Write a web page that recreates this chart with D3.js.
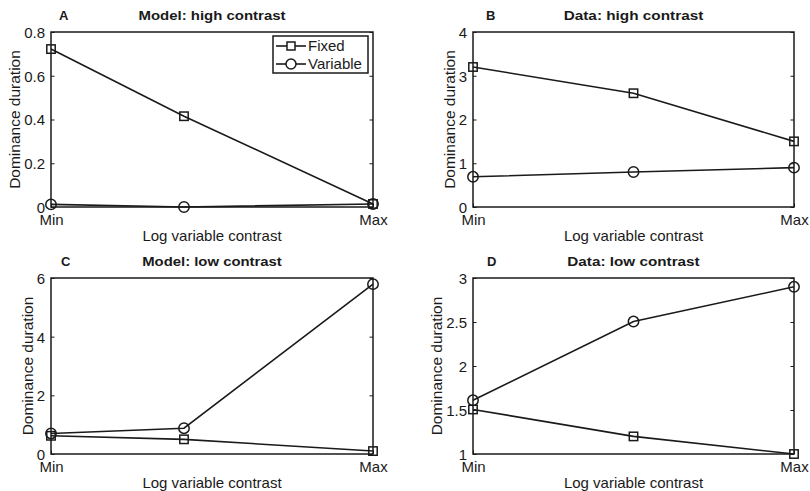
<!DOCTYPE html>
<html>
<head>
<meta charset="utf-8">
<script src="https://cdn.jsdelivr.net/npm/d3@7/dist/d3.min.js"></script>
<style>
  html, body { margin: 0; padding: 0; background: #fff; }
  svg { display: block; }
  text { font-family: "Liberation Sans", Arial, Helvetica, sans-serif; fill: #1a1a1a; }
</style>
</head>
<body>
<script>
// ---- data ----
const panelLetters = ["A", "B", "C", "D"];
const panelTitles = ["Model: high contrast", "Data: high contrast", "Model: low contrast", "Data: low contrast"];
const seriesNames = ["Fixed", "Variable"];
// normalized log variable contrast for the three conditions (Min, middle, Max)
const contrastA = [0, 0.413, 1];
const contrastB = [0, 0.5, 1];
const contrastC = [0, 0.413, 1];
const contrastD = [0, 0.5, 1];
const fixedA = [0.722, 0.415, 0.014];
const variableA = [0.012, 0.0, 0.014];
const fixedB = [3.2, 2.6, 1.5];
const variableB = [0.69, 0.8, 0.9];
const fixedC = [0.62, 0.5, 0.1];
const variableC = [0.70, 0.88, 5.79];
const fixedD = [1.506, 1.2, 1.0];
const variableD = [1.61, 2.505, 2.9];
const yTicksA = [0, 0.2, 0.4, 0.6, 0.8];
const yTicksB = [0, 1, 2, 3, 4];
const yTicksC = [0, 2, 4, 6];
const yTicksD = [1, 1.5, 2, 2.5, 3];
const xTickValues = [0, 1];
const xTickLabels = ["Min", "Max"];
const xLabel = "Log variable contrast";
const yLabel = "Dominance duration";

const panels = [
  { x: contrastA, fixed: fixedA, variable: variableA, ticks: yTicksA },
  { x: contrastB, fixed: fixedB, variable: variableB, ticks: yTicksB },
  { x: contrastC, fixed: fixedC, variable: variableC, ticks: yTicksC },
  { x: contrastD, fixed: fixedD, variable: variableD, ticks: yTicksD }
];

// ---- layout ----
const W = 810, H = 491;
const colLeft = [51, 473], colRight = [373, 794];
const rowTop = [32, 278], rowBottom = [207, 454];
const letterOffset = [8, 13, 10, 14];
const ink = "#1a1a1a";

const svg = d3.select("body").append("svg").attr("width", W).attr("height", H);

panels.forEach((p, i) => {
  const col = i % 2, row = Math.floor(i / 2);
  const L = colLeft[col], R = colRight[col], T = rowTop[row], B = rowBottom[row];
  const g = svg.append("g");

  const x = d3.scaleLinear().domain([0, 1]).range([L, R]);
  const y = d3.scaleLinear().domain(d3.extent(p.ticks)).range([B, T]);

  // left axis
  const yAxis = g.append("g").attr("transform", `translate(${L},0)`)
    .call(d3.axisLeft(y).tickValues(p.ticks).tickSizeInner(-3.5).tickSizeOuter(0).tickPadding(6)
      .tickFormat(d3.format("~g")));
  yAxis.select(".domain").remove();
  yAxis.selectAll("line").attr("stroke", ink).attr("stroke-width", 1);
  yAxis.selectAll("text").attr("font-size", 15).attr("fill", ink).attr("dy", "0.36em");
  // right axis ticks
  const yAxisR = g.append("g").attr("transform", `translate(${R},0)`)
    .call(d3.axisRight(y).tickValues(p.ticks).tickSizeInner(-3.5).tickSizeOuter(0).tickFormat(""));
  yAxisR.select(".domain").remove();
  yAxisR.selectAll("line").attr("stroke", ink).attr("stroke-width", 1);

  // bottom axis
  const xAxis = g.append("g").attr("transform", `translate(0,${B})`)
    .call(d3.axisBottom(x).tickValues(xTickValues).tickSizeInner(-3.5).tickSizeOuter(0).tickPadding(7)
      .tickFormat((d, k) => xTickLabels[k]));
  xAxis.select(".domain").remove();
  xAxis.selectAll("line").attr("stroke", ink);
  xAxis.selectAll("text").attr("font-size", 15).attr("fill", ink);

  // box
  g.append("rect").attr("x", L).attr("y", T).attr("width", R - L).attr("height", B - T)
    .attr("fill", "none").attr("stroke", ink).attr("stroke-width", 1.5);

  // labels
  g.append("text").attr("x", (L + R) / 2).attr("y", B + 34).attr("text-anchor", "middle")
    .attr("font-size", 15).text(xLabel);
  let minLeft = Infinity;
  yAxis.selectAll("text").each(function () { const b = this.getBBox(); minLeft = Math.min(minLeft, L + b.x); });
  const ylx = minLeft - 4;
  g.append("text").attr("transform", `translate(${ylx},${(T + B) / 2}) rotate(-90)`)
    .attr("text-anchor", "middle").attr("font-size", 15.5).text(yLabel);

  g.append("text").attr("x", (L + R) / 2).attr("y", T - 12).attr("text-anchor", "middle")
    .attr("font-size", 12.5).attr("font-weight", "bold")
    .attr("textLength", 147 * panelTitles[i].length / 20).attr("lengthAdjust", "spacingAndGlyphs")
    .text(panelTitles[i]);
  g.append("text").attr("x", L + letterOffset[i]).attr("y", T - 12)
    .attr("font-size", 13).attr("font-weight", "bold").text(panelLetters[i]);

  // lines
  const line = d3.line().x(d => x(d[0])).y(d => y(d[1]));
  const sF = p.x.map((v, k) => [v, p.fixed[k]]);
  const sV = p.x.map((v, k) => [v, p.variable[k]]);
  [sF, sV].forEach(s => {
    g.append("path").datum(s).attr("d", line).attr("fill", "none")
      .attr("stroke", ink).attr("stroke-width", 1.6);
  });
  g.selectAll(".sq").data(sF).join("rect")
    .attr("x", d => x(d[0]) - 4.2).attr("y", d => y(d[1]) - 4.2)
    .attr("width", 8.4).attr("height", 8.4)
    .attr("fill", "none").attr("stroke", ink).attr("stroke-width", 1.5);
  g.selectAll(".ci").data(sV).join("circle")
    .attr("cx", d => x(d[0])).attr("cy", d => y(d[1])).attr("r", 5.2)
    .attr("fill", "none").attr("stroke", ink).attr("stroke-width", 1.5);

  // legend in panel A
  if (i === 0) {
    const lx = 273, ly = 36, lw = 95, lh = 37;
    g.append("rect").attr("x", lx).attr("y", ly).attr("width", lw).attr("height", lh)
      .attr("fill", "#fff").attr("stroke", ink).attr("stroke-width", 1.5);
    seriesNames.forEach((name, k) => {
      const cy = ly + 10 + k * 18;
      g.append("line").attr("x1", lx + 3).attr("x2", lx + 33).attr("y1", cy).attr("y2", cy)
        .attr("stroke", ink).attr("stroke-width", 1.6);
      if (k === 0) {
        g.append("rect").attr("x", lx + 18 - 4).attr("y", cy - 4).attr("width", 8).attr("height", 8)
          .attr("fill", "#fff").attr("stroke", ink).attr("stroke-width", 1.5);
      } else {
        g.append("circle").attr("cx", lx + 18).attr("cy", cy).attr("r", 5)
          .attr("fill", "#fff").attr("stroke", ink).attr("stroke-width", 1.5);
      }
      g.append("text").attr("x", lx + 35).attr("y", cy).attr("dy", "0.36em")
        .attr("font-size", 15).text(name);
    });
  }
});
</script>
</body>
</html>
